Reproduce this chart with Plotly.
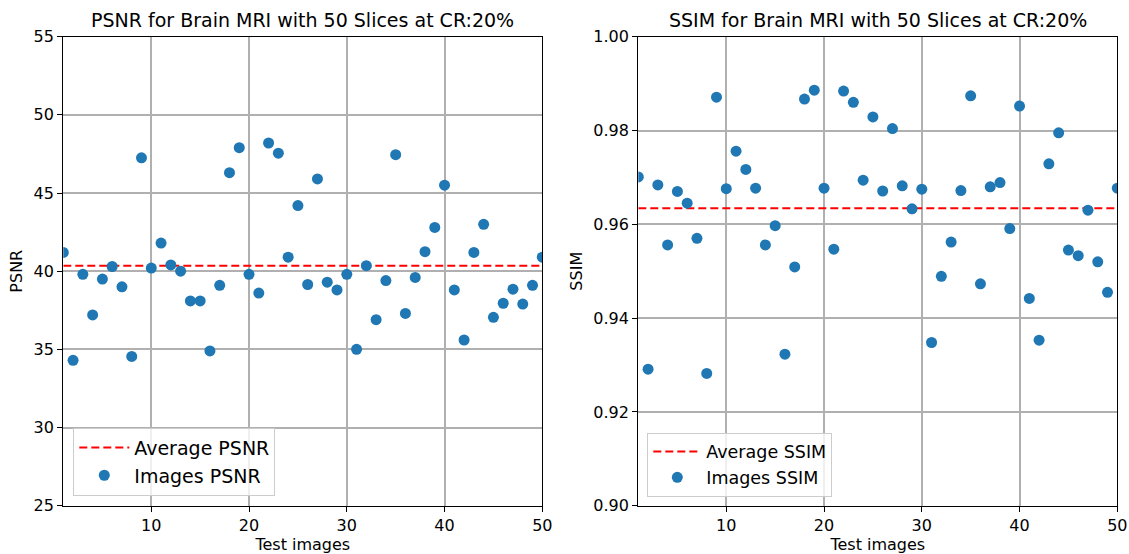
import plotly.graph_objects as go

W, H = 1129, 554

images = list(range(1, 51))
psnr = [41.2, 34.3, 39.8, 37.2, 39.5, 40.3, 39.0, 34.55, 47.25, 40.2,
        41.8, 40.4, 40.0, 38.1, 38.1, 34.9, 39.1, 46.3, 47.9, 39.8,
        38.6, 48.2, 47.55, 40.9, 44.2, 39.15, 45.9, 39.3, 38.8, 39.8,
        35.0, 40.35, 36.9, 39.4, 47.45, 37.3, 39.6, 41.25, 42.8, 45.5,
        38.8, 35.6, 41.2, 43.0, 37.05, 37.95, 38.85, 37.9, 39.1, 40.9]
ssim = [0.9701, 0.9291, 0.9684, 0.9556, 0.9670, 0.9645, 0.9570, 0.9282, 0.9871, 0.9676,
        0.9756, 0.9717, 0.9677, 0.9556, 0.9597, 0.9323, 0.9509, 0.9867, 0.9886, 0.9677,
        0.9547, 0.9884, 0.9860, 0.9694, 0.9829, 0.9671, 0.9804, 0.9682, 0.9633, 0.9675,
        0.9348, 0.9489, 0.9562, 0.9672, 0.9874, 0.9473, 0.9680, 0.9689, 0.9591, 0.9852,
        0.9442, 0.9353, 0.9729, 0.9795, 0.9545, 0.9533, 0.9630, 0.9520, 0.9455, 0.9677]
avg_psnr = 40.35
avg_ssim = 0.9634

x_range = [1, 50]
x_ticks = [10, 20, 30, 40, 50]
psnr_ticks = [25, 30, 35, 40, 45, 50, 55]
ssim_ticks = [0.90, 0.92, 0.94, 0.96, 0.98, 1.00]

BLUE = "#1f77b4"
FONT = "DejaVu Sans"

def px_x(p):
    return p / W

def px_y(p):
    return 1 - p / H

fig = go.Figure()

# Left panel
fig.add_trace(go.Scatter(x=x_range, y=[avg_psnr, avg_psnr], mode="lines",
                         line=dict(color="red", width=2, dash="8px,4px"),
                         name="Average PSNR", xaxis="x", yaxis="y", legend="legend"))
fig.add_trace(go.Scatter(x=images, y=psnr, mode="markers",
                         marker=dict(color=BLUE, size=11),
                         name="Images PSNR", xaxis="x", yaxis="y", legend="legend"))
# Right panel
fig.add_trace(go.Scatter(x=x_range, y=[avg_ssim, avg_ssim], mode="lines",
                         line=dict(color="red", width=2, dash="8px,4px"),
                         name="Average SSIM", xaxis="x2", yaxis="y2", legend="legend2"))
fig.add_trace(go.Scatter(x=images, y=ssim, mode="markers",
                         marker=dict(color=BLUE, size=11),
                         name="Images SSIM", xaxis="x2", yaxis="y2", legend="legend2"))

ydom = [px_y(505.7), px_y(36.7)]
common_ax = dict(showline=True, linecolor="black", linewidth=1.3, mirror=True,
                 ticks="outside", ticklen=5, tickwidth=1.2, tickcolor="black",
                 showgrid=True, gridcolor="#b0b0b0", gridwidth=1.5, zeroline=False,
                 automargin=False,
                 tickfont=dict(family=FONT, size=16, color="black"))

fig.update_layout(
    width=W, height=H,
    margin=dict(l=0, r=0, t=0, b=0),
    paper_bgcolor="white", plot_bgcolor="white",
    font=dict(family=FONT, color="black"),
    xaxis=dict(domain=[px_x(63.3), px_x(542.3)], range=x_range, tickvals=x_ticks,
               anchor="y", title=dict(text="Test images", font=dict(size=16), standoff=2),
               **common_ax),
    yaxis=dict(domain=ydom, range=[25, 55], tickvals=psnr_ticks, anchor="x",
               title=dict(text="PSNR", font=dict(size=16), standoff=6), **common_ax),
    xaxis2=dict(domain=[px_x(638.3), px_x(1117.3)], range=x_range, tickvals=x_ticks,
                anchor="y2", title=dict(text="Test images", font=dict(size=16), standoff=2),
                **common_ax),
    yaxis2=dict(domain=ydom, range=[0.90, 1.00], tickvals=ssim_ticks, tickformat=".2f",
                anchor="x2", title=dict(text="SSIM", font=dict(size=16), standoff=6),
                **common_ax),
    legend=dict(x=px_x(73.3), y=px_y(495.7), xanchor="left", yanchor="bottom",
                bgcolor="rgba(255,255,255,0.8)", bordercolor="#cccccc", borderwidth=1,
                font=dict(family=FONT, size=19, color="black"), itemwidth=50,
                tracegroupgap=0),
    legend2=dict(x=px_x(647.3), y=px_y(496.7), xanchor="left", yanchor="bottom",
                 bgcolor="rgba(255,255,255,0.8)", bordercolor="#cccccc", borderwidth=1,
                 font=dict(family=FONT, size=17.5, color="black"), itemwidth=48,
                 tracegroupgap=0),
    annotations=[
        dict(text="PSNR for Brain MRI with 50 Slices at CR:20%", x=px_x(302.8), y=px_y(20),
             xref="paper", yref="paper", showarrow=False, xanchor="center", yanchor="middle",
             font=dict(family=FONT, size=19, color="black")),
        dict(text="SSIM for Brain MRI with 50 Slices at CR:20%", x=px_x(877.8), y=px_y(20),
             xref="paper", yref="paper", showarrow=False, xanchor="center", yanchor="middle",
             font=dict(family=FONT, size=19, color="black")),
    ],
)

fig.write_html("out.html")
